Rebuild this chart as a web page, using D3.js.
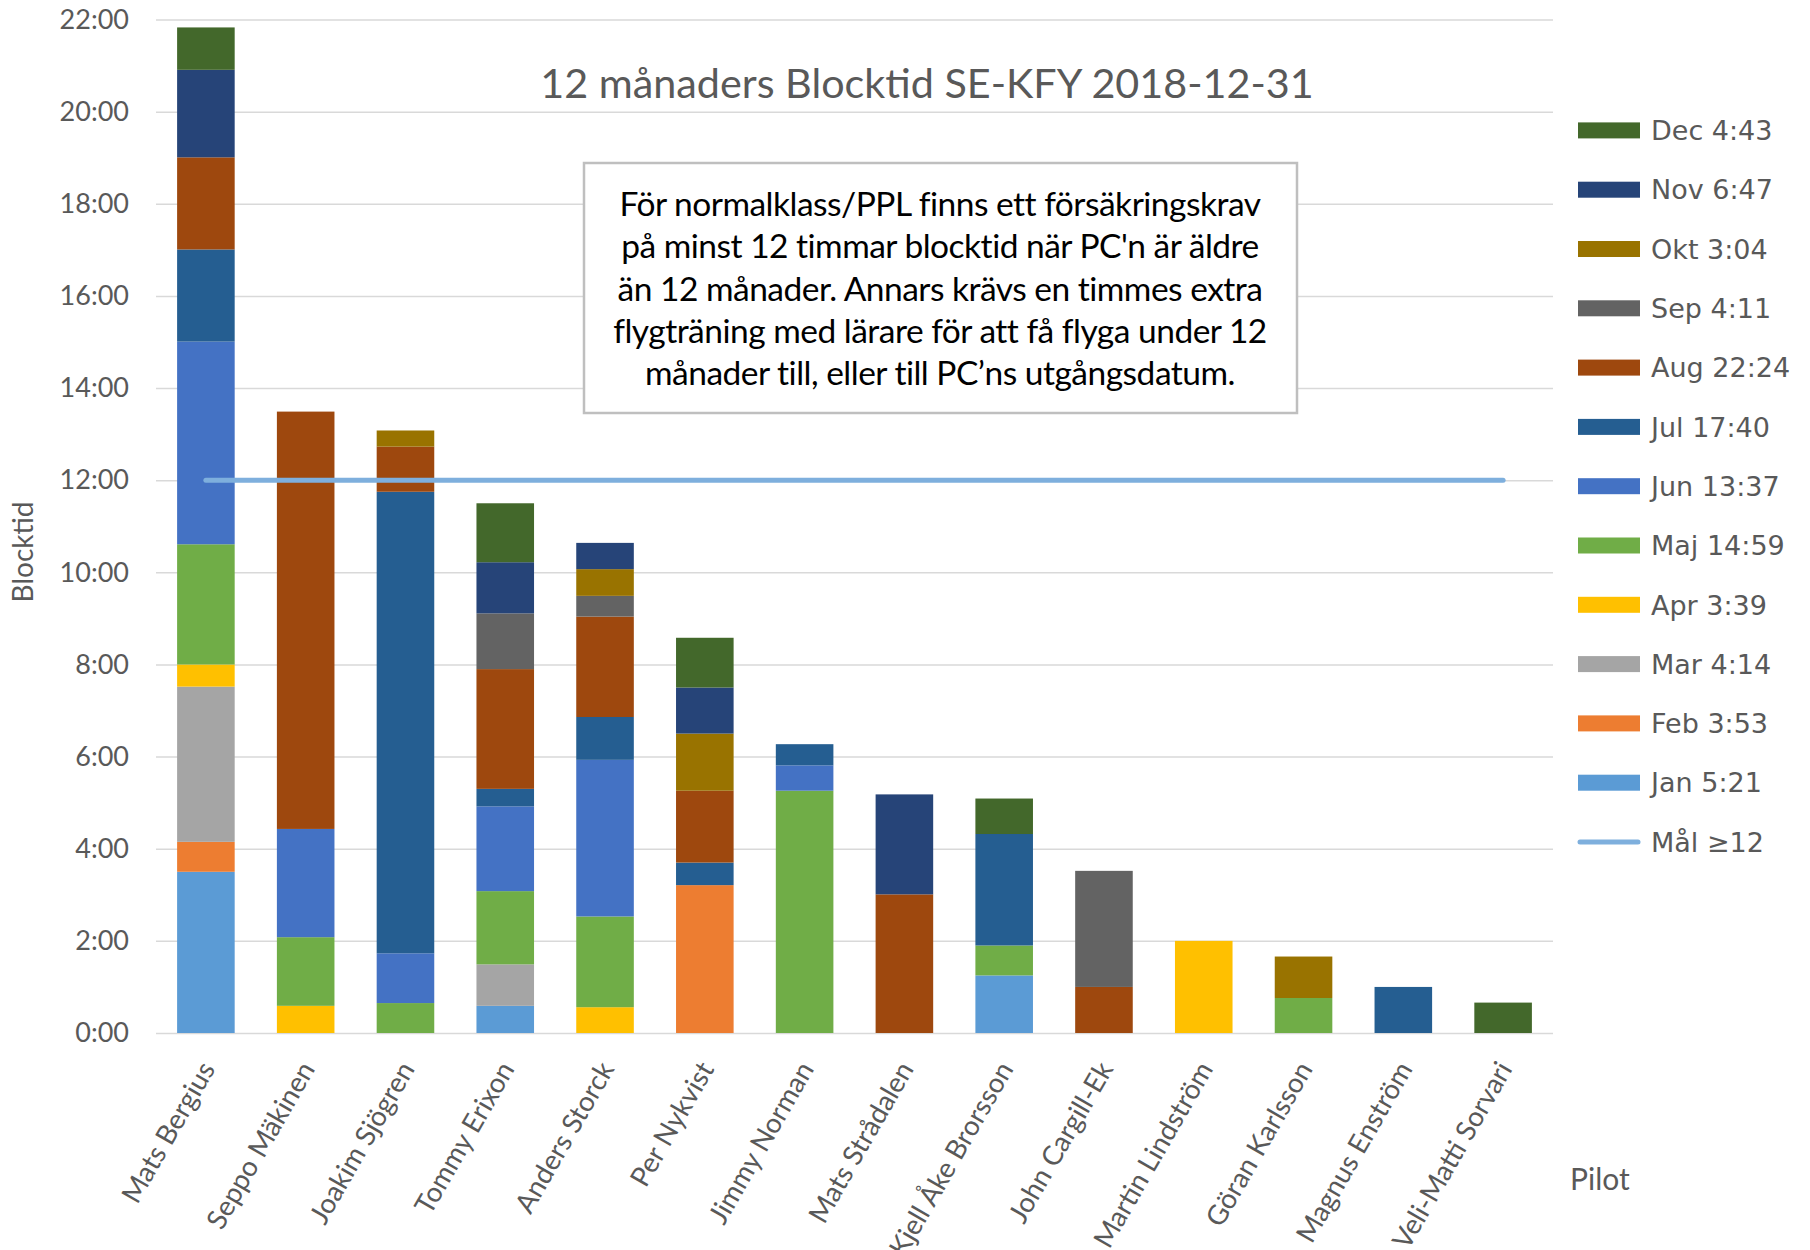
<!DOCTYPE html>
<html>
<head>
<meta charset="utf-8">
<script src="https://cdn.jsdelivr.net/npm/d3@7"></script>
<style>
  body { margin: 0; background: #fff; }
  text { font-family: Lato, "Open Sans", sans-serif; }
</style>
</head>
<body>
<svg id="chart" width="1810" height="1250"></svg>
<script>
const pilots = ["Mats Bergius", "Seppo Mäkinen", "Joakim Sjögren", "Tommy Erixon", "Anders Storck",
  "Per Nykvist", "Jimmy Norman", "Mats Strådalen", "Kjell Åke Brorsson", "John Cargill-Ek",
  "Martin Lindström", "Göran Karlsson", "Magnus Enström", "Veli-Matti Sorvari"];

const months = ["Jan", "Feb", "Mar", "Apr", "Maj", "Jun", "Jul", "Aug", "Sep", "Okt", "Nov", "Dec"];
const monthTotals = ["5:21", "3:53", "4:14", "3:39", "14:59", "13:37", "17:40", "22:24", "4:11", "3:04", "6:47", "4:43"];
const monthColors = ["#5b9bd5", "#ed7d31", "#a5a5a5", "#ffc000", "#70ad47", "#4472c4",
  "#255e91", "#9e480e", "#636363", "#997300", "#264478", "#43682b"];

// block hours per pilot (same order as pilots), one array per month
const jan = [3.50, 0, 0, 0.59, 0, 0, 0, 0, 1.25, 0, 0, 0, 0, 0];
const feb = [0.65, 0, 0, 0, 0, 3.21, 0, 0, 0, 0, 0, 0, 0, 0];
const mar = [3.37, 0, 0, 0.90, 0, 0, 0, 0, 0, 0, 0, 0, 0, 0];
const apr = [0.48, 0.59, 0, 0, 0.56, 0, 0, 0, 0, 0, 2.00, 0, 0, 0];
const maj = [2.61, 1.49, 0.65, 1.59, 1.97, 0, 5.26, 0, 0.65, 0, 0, 0.76, 0, 0];
const jun = [4.40, 2.35, 1.08, 1.84, 3.40, 0, 0.55, 0, 0, 0, 0, 0, 0, 0];
const jul = [2.00, 0, 10.02, 0.38, 0.93, 0.49, 0.46, 0, 2.42, 0, 0, 0, 1.00, 0];
const aug = [2.00, 9.06, 0.98, 2.60, 2.18, 1.56, 0, 3.01, 0, 1.00, 0, 0, 0, 0];
const sep = [0, 0, 0, 1.21, 0.45, 0, 0, 0, 0, 2.52, 0, 0, 0, 0];
const okt = [0, 0, 0.35, 0, 0.58, 1.24, 0, 0, 0, 0, 0, 0.90, 0, 0];
const nov = [1.90, 0, 0, 1.11, 0.57, 1.00, 0, 2.17, 0, 0, 0, 0, 0, 0];
const dec = [0.92, 0, 0, 1.28, 0, 1.08, 0, 0, 0.77, 0, 0, 0, 0, 0.66];

const targetHours = 12;
const yTicks = [0, 2, 4, 6, 8, 10, 12, 14, 16, 18, 20, 22];

const noteLines = [
  "För normalklass/PPL finns ett försäkringskrav",
  "på minst 12 timmar blocktid när PC'n är äldre",
  "än 12 månader. Annars krävs en timmes extra",
  "flygträning med lärare för att få flyga under 12",
  "månader till, eller till PC’ns utgångsdatum."
];

const monthValues = [jan, feb, mar, apr, maj, jun, jul, aug, sep, okt, nov, dec];
const rows = pilots.map((p, i) => {
  const r = { pilot: p };
  months.forEach((m, j) => { r[m] = monthValues[j][i]; });
  return r;
});

const svg = d3.select("#chart");
const plotLeft = 156, plotRight = 1553, plotBottom = 1033, plotTop = 19.6;

const x = d3.scaleBand().domain(pilots).range([plotLeft, plotRight]).paddingInner(0.423).paddingOuter(0.2115);
const y = d3.scaleLinear().domain([0, 22]).range([plotBottom, plotTop]);
const color = d3.scaleOrdinal().domain(months).range(monthColors);

const fmt = h => Math.floor(h) + ":" + String(Math.round((h % 1) * 60)).padStart(2, "0");

// gridlines + y labels
const yAxis = svg.append("g")
  .attr("transform", `translate(${plotLeft},0)`)
  .call(d3.axisLeft(y).tickValues(yTicks).tickSize(-(plotRight - plotLeft)).tickPadding(27).tickFormat(fmt));
yAxis.select(".domain").remove();
yAxis.selectAll(".tick line").attr("stroke", "#d9d9d9").attr("stroke-width", 1.5);
yAxis.selectAll(".tick text").attr("fill", "#595959").style("font-size", "27px")
  .style("font-family", "Lato, sans-serif");

// title
svg.append("text")
  .attr("x", 927).attr("y", 98)
  .attr("text-anchor", "middle")
  .attr("fill", "#595959")
  .style("font-size", "41.3px")
  .text("12 månaders Blocktid SE-KFY 2018-12-31");

// note box
svg.append("rect")
  .attr("x", 584).attr("y", 163).attr("width", 713).attr("height", 250)
  .attr("fill", "#fff").attr("stroke", "#bfbfbf").attr("stroke-width", 2.5);
svg.append("g").selectAll("text")
  .data(noteLines)
  .enter()
  .append("text")
  .attr("x", 940)
  .attr("y", (d, i) => 216 + i * 42.3)
  .attr("text-anchor", "middle")
  .attr("fill", "#000")
  .style("font-size", "33.5px")
  .style("letter-spacing", "-0.5px")
  .text(d => d);

// stacked bars
const series = d3.stack().keys(months)(rows);
svg.append("g").selectAll("g")
  .data(series)
  .enter()
  .append("g")
  .attr("fill", d => color(d.key))
  .selectAll("rect")
  .data(d => d.filter(s => s[1] - s[0] > 0))
  .enter()
  .append("rect")
  .attr("x", d => x(d.data.pilot))
  .attr("y", d => y(d[1]))
  .attr("width", x.bandwidth())
  .attr("height", d => y(d[0]) - y(d[1]));

// target line
const line = d3.line()
  .x(p => x(p) + x.bandwidth() / 2)
  .y(() => y(targetHours));
svg.append("path")
  .datum(pilots)
  .attr("d", line)
  .attr("fill", "none")
  .attr("stroke", "#7eafdd")
  .attr("stroke-width", 5)
  .attr("stroke-linecap", "round");

// x labels
const xAxis = svg.append("g")
  .attr("transform", `translate(0,${plotBottom})`)
  .call(d3.axisBottom(x).tickSize(0));
xAxis.select(".domain").remove();
xAxis.selectAll(".tick text")
  .attr("x", 0).attr("y", 0).attr("dy", 0)
  .attr("transform", "translate(10,36) rotate(-60)")
  .style("text-anchor", "end")
  .style("font-size", "27.5px")
  .style("font-family", "Lato, sans-serif")
  .attr("fill", "#595959");

// axis titles
svg.append("text")
  .attr("transform", "translate(33,552) rotate(-90)")
  .attr("text-anchor", "middle")
  .attr("fill", "#595959")
  .style("font-size", "28px")
  .text("Blocktid");

svg.append("text")
  .attr("x", 1570).attr("y", 1190)
  .attr("fill", "#595959")
  .style("font-size", "30px")
  .text("Pilot");

// legend
const legendItems = months.map((m, i) => ({ key: m, label: m + " " + monthTotals[i] })).reverse();
const legend = svg.append("g").attr("transform", "translate(1578,130.4)");
const item = legend.selectAll("g")
  .data(legendItems)
  .enter()
  .append("g")
  .attr("transform", (d, i) => `translate(0,${i * 59.3})`);
item.append("rect")
  .attr("y", -8).attr("width", 62).attr("height", 16)
  .style("fill", d => color(d.key));
item.append("text")
  .attr("x", 73).attr("dy", "0.36em")
  .style("font-family", "'DejaVu Sans', sans-serif")
  .style("font-size", "27px")
  .attr("fill", "#595959")
  .text(d => d.label);

const goal = legend.append("g").attr("transform", `translate(0,${12 * 59.3})`);
goal.append("line")
  .attr("x1", 2).attr("x2", 60)
  .attr("stroke", "#7eafdd").attr("stroke-width", 5).attr("stroke-linecap", "round");
goal.append("text")
  .attr("x", 73).attr("dy", "0.36em")
  .style("font-family", "'DejaVu Sans', sans-serif")
  .style("font-size", "27px")
  .attr("fill", "#595959")
  .text("Mål ≥12");
</script>
</body>
</html>
